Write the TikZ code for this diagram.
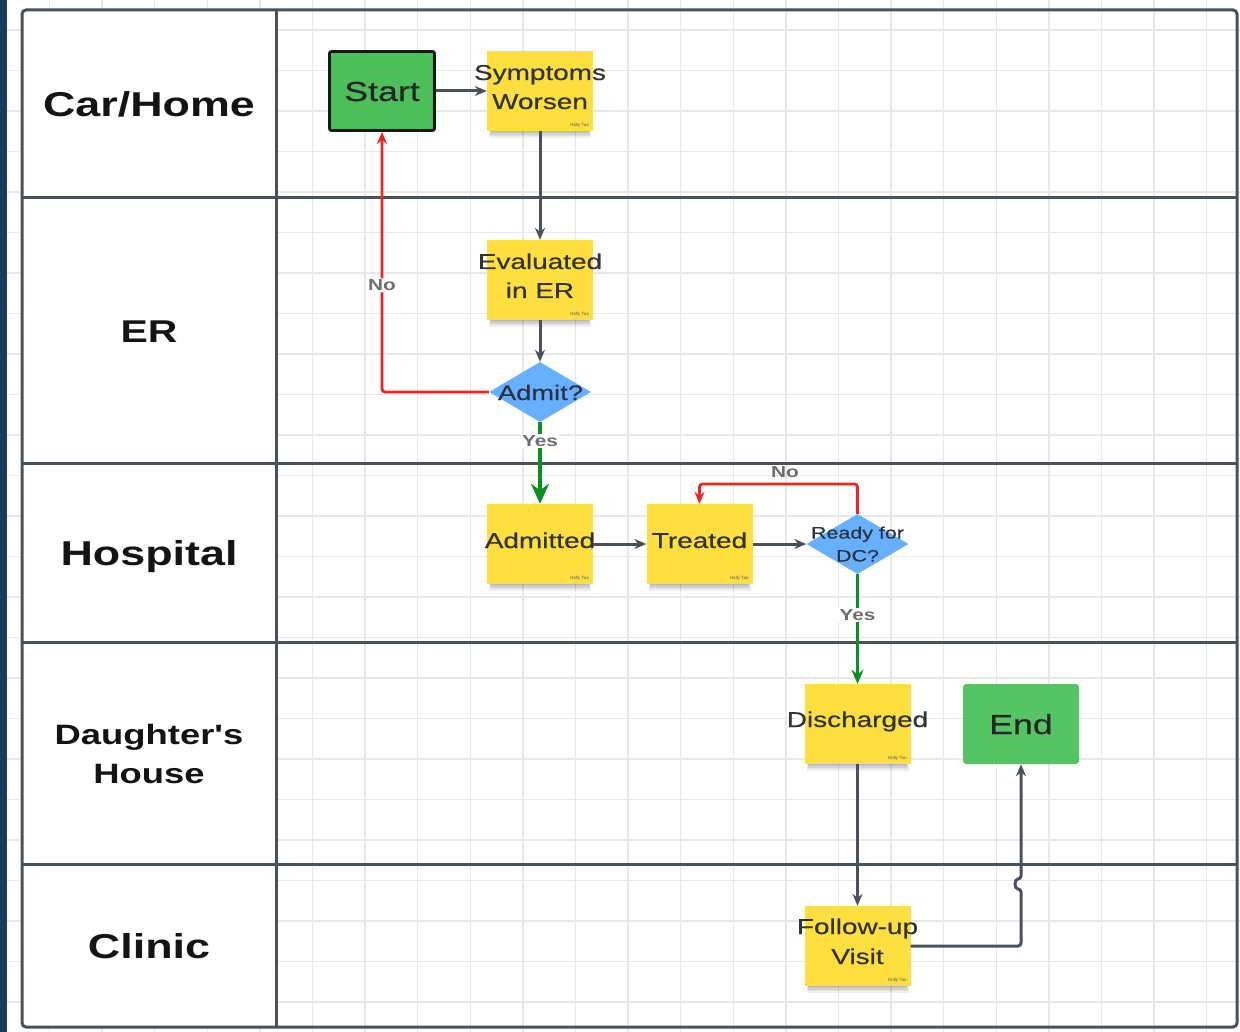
\documentclass[tikz,border=0pt]{standalone}
\usepackage{fontspec}
\setmainfont{Liberation Sans}
\newfontfamily\wide[FakeStretch=1.3]{Liberation Sans}
\newfontfamily\widemed[FakeStretch=1.3, FakeBold=0.6]{Liberation Sans}
\usetikzlibrary{arrows.meta,shapes.geometric}

\definecolor{navy}{HTML}{1B3A5C}
\definecolor{lanegray}{HTML}{4A505C}
\definecolor{gridgray}{HTML}{E8E8EA}
\definecolor{stickyyellow}{HTML}{FDE03F}
\definecolor{startgreen}{HTML}{4DBF5A}
\definecolor{endgreen}{HTML}{55C464}
\definecolor{decblue}{HTML}{66B0FF}
\definecolor{nored}{HTML}{EE2424}
\definecolor{yesgreen}{HTML}{0A9020}
\definecolor{txtdark}{HTML}{333333}
\definecolor{decdark}{HTML}{2B3342}
\definecolor{labgray}{HTML}{6E6E6E}

% soft shadow strip under a sticky note centred at (#1,#2)
\newcommand\notesh[2]{%
  \foreach \k in {0,...,4}{%
    \fill[black, opacity=0.06] ({#1-51+\k*0.6},{#2+34}) rectangle ({#1+51-\k*0.6},{#2+47-\k*1.6});
  }%
}

\tikzset{
  gridline/.style={draw=gridgray, line width=1.3pt},
  laneline/.style={draw=lanegray, line width=3pt},
  lanetxt/.style={font=\wide\bfseries\fontsize{34.5}{40}\selectfont, text=black!92, anchor=base, inner sep=0pt},
  lanetxtsmall/.style={lanetxt, font=\wide\bfseries\fontsize{28}{34}\selectfont},
  sticky/.style={fill=stickyyellow, minimum width=106, minimum height=80, inner sep=0pt},
  stxt/.style={font=\widemed\fontsize{21.5}{26}\selectfont, text=txtdark, anchor=base, inner sep=0pt},
  sig/.style={font=\fontsize{4.5}{5}\selectfont, text=txtdark!80, anchor=south east, inner sep=0pt, xshift=-4pt, yshift=4pt},
  decision/.style={diamond, fill=decblue, minimum width=102, minimum height=60, aspect=1.7, inner sep=0pt},
  dtxt/.style={font=\widemed\fontsize{21}{25}\selectfont, text=decdark, anchor=base, inner sep=0pt},
  dtxtsmall/.style={dtxt, font=\widemed\fontsize{16.5}{20}\selectfont},
  conn/.style={draw=lanegray, line width=3pt, -{Stealth[length=12pt, width=10pt]}},
  noconn/.style={draw=nored, line width=2.8pt, rounded corners=3pt, -{Stealth[length=12pt, width=10pt]}},
  yesconn/.style={draw=yesgreen, line width=4.5pt, -{Stealth[length=20pt, width=18pt]}},
  flaglabel/.style={font=\wide\bfseries\fontsize{16}{18}\selectfont, text=labgray, fill=white, inner sep=1.5pt},
}

\begin{document}
\begin{tikzpicture}[x=1pt, y=-1pt]
\useasboundingbox (0,0) rectangle (1240,1032);

% canvas and background grid
\fill[white] (0,0) rectangle (1240,1032);
\foreach \i in {0,...,22} \draw[gridline] ({49.5+52.6*\i},0) -- ({49.5+52.6*\i},1032);
\foreach \j in {0,...,24} \draw[gridline] (0,{30+40.5*\j}) -- (1240,{30+40.5*\j});
\fill[navy] (0,0) rectangle (7,1032);

% swimlane frame
\fill[white] (22,10) rectangle (276,1027);
\draw[laneline, rounded corners=4pt] (22,10) rectangle (1237,1027);
\draw[laneline] (276,10) -- (276,1027);
\foreach \y in {198,463,642,864} \draw[laneline] (22,\y) -- (1237,\y);

% lane titles
\node[lanetxt] (l1) at (149,116.5) {Car/Home};
\node[lanetxt, font=\wide\bfseries\fontsize{31.5}{36}\selectfont] (l2) at (149,343) {ER};
\node[lanetxt] (l3) at (149,565.5) {Hospital};
\node[lanetxtsmall] (l4a) at (149,744) {Daughter's};
\node[lanetxtsmall] (l4b) at (149,783) {House};
\node[lanetxt] (l5) at (149,958) {Clinic};

% start / end terminals
\node[draw=black!90, line width=2.8pt, fill=startgreen, rounded corners=2pt,
      minimum width=105, minimum height=79, inner sep=0pt] (st) at (382,91) {};
\node[font=\widemed\fontsize{27.5}{32}\selectfont, text=black!85, anchor=base, inner sep=0pt] (stt) at (382,101) {Start};

\node[fill=endgreen, rounded corners=3pt, minimum width=116, minimum height=80, inner sep=0pt] (endn) at (1021,724) {};
\node[font=\widemed\fontsize{27.5}{32}\selectfont, text=black!85, anchor=base, inner sep=0pt] (endt) at (1021,734) {End};

% sticky notes
\notesh{540}{91}
\node[sticky] (sw) at (540,91) {};
\node[stxt] (swa) at (540,80) {Symptoms};
\node[stxt] (swb) at (540,109) {Worsen};
\node[sig] (sws) at (sw.south east) {Holly Tao};

\notesh{540}{280}
\node[sticky] (ev) at (540,280) {};
\node[stxt] (eva) at (540,269) {Evaluated};
\node[stxt] (evb) at (540,298) {in ER};
\node[sig] (evs) at (ev.south east) {Holly Tao};

\notesh{540}{544}
\node[sticky] (ad) at (540,544) {};
\node[stxt] (adt) at (540,548) {Admitted};
\node[sig] (ads) at (ad.south east) {Holly Tao};

\notesh{699.5}{544}
\node[sticky] (tr) at (699.5,544) {};
\node[stxt] (trt) at (699.5,548) {Treated};
\node[sig] (trs) at (tr.south east) {Holly Tao};

\notesh{857.5}{724}
\node[sticky] (dis) at (857.5,724) {};
\node[stxt] (dist) at (857.5,727) {Discharged};
\node[sig] (diss) at (dis.south east) {Holly Tao};

\notesh{857.5}{946}
\node[sticky] (fu) at (857.5,946) {};
\node[stxt] (fua) at (857.5,934) {Follow-up};
\node[stxt] (fub) at (857.5,964) {Visit};
\node[sig] (fus) at (fu.south east) {Holly Tao};

% decisions
\node[decision] (adm) at (540,392) {};
\node[dtxt] (admt) at (540.5,400) {Admit?};

\node[decision] (rd) at (857.5,544) {};
\node[dtxtsmall] (rda) at (857.5,538.5) {Ready for};
\node[dtxtsmall] (rdb) at (857.5,561.5) {DC?};

% main flow
\draw[conn] (st.east) -- (sw.west);
\draw[conn] (sw.south) -- (ev.north);
\draw[conn] (ev.south) -- (adm.north);
\draw[conn] (ad.east) -- (tr.west);
\draw[conn] (tr.east) -- (rd.west);
\draw[conn] (dis.south) -- (fu.north);

% follow-up back to end, hopping over the lane border
\coordinate (hopa) at (1021,889);
\coordinate (hopb) at (1021,879);
\draw[conn, rounded corners=3pt] (fu.east) -| (hopa)
  .. controls (1014,889) and (1014,879) .. (hopb) -- (endn.south);

% decision branches
\draw[noconn] (adm.west) -| node[flaglabel, pos=0.705] (no1) {No} (st.south);
\draw[yesconn] (adm.south) -- node[flaglabel, pos=0.23] (yes1) {Yes} (ad.north);

\coordinate (loopc) at (857.5,484);
\draw[noconn] (rd.north) -- (loopc) -| (tr.north);
\node[flaglabel, fill=none] (no2) at (785,472) {No};
\draw[yesconn, line width=3.5pt, -{Stealth[length=14pt, width=12pt]}] (rd.south) -- node[flaglabel, pos=0.376] (yes2) {Yes} (dis.north);
\end{tikzpicture}
\end{document}
